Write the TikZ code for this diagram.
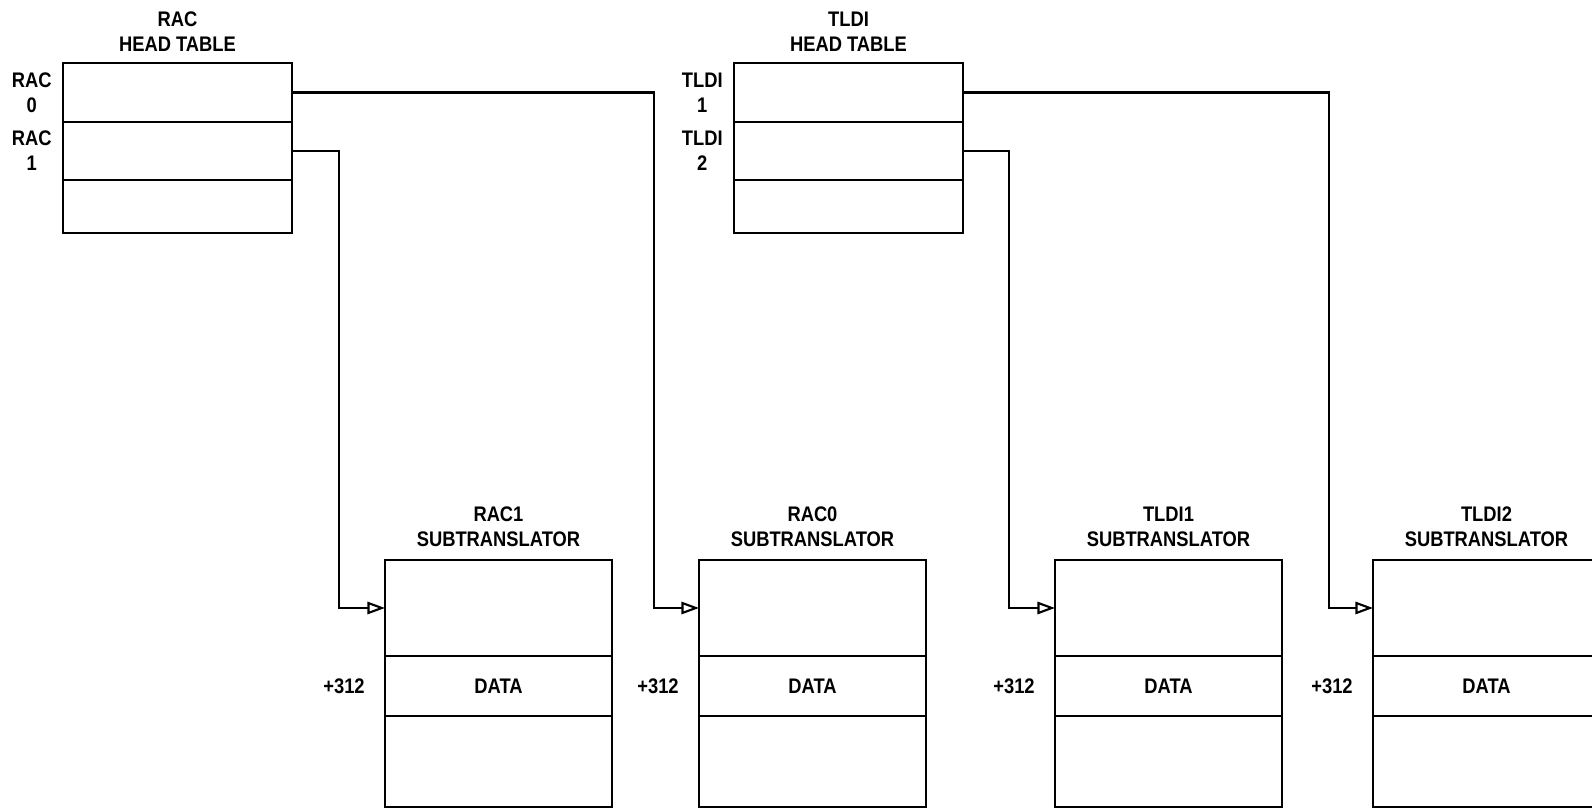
\documentclass[tikz,border=0pt]{standalone}
\usepackage{fontspec}
\setmainfont[FakeStretch=0.87]{Liberation Sans}
\usetikzlibrary{positioning, arrows.meta}

\begin{document}
\begin{tikzpicture}[
    % Define styles for the rows, labels and arrows
        x=0.02cm, y=-0.02cm,
        node distance=0.22cm,
        headrow/.style={draw, rectangle, line width=1.2pt, outer sep=0pt, inner sep=0pt, minimum width=4.58cm},
        subrow/.style={draw, rectangle, line width=1.2pt, outer sep=0pt, inner sep=0pt, minimum width=4.54cm, font=\bfseries\fontsize{12}{14.2}\selectfont},
        textnode/.style={align=center, inner sep=0pt, font=\bfseries\fontsize{12}{14.2}\selectfont},
        arrow/.style={-{Triangle[open, length=10pt, width=7pt]}, line width=1.2pt}
    ]
        \useasboundingbox (0,0) rectangle (1592,811);
        \clip (0,0) rectangle (1592,811);

        % RAC head table
        \node[headrow, minimum height=1.18cm, anchor=north west] (rac0) at (63,63) {};
        \node[headrow, minimum height=1.16cm, below=0pt of rac0] (rac1) {};
        \node[headrow, minimum height=1.06cm, below=0pt of rac1] (racend) {};
        \node[textnode, above=of rac0] (racname) {RAC\\HEAD TABLE};
        \node[textnode, left=of rac0] (rac0lbl) {RAC\\0};
        \node[textnode, left=of rac1] (rac1lbl) {RAC\\1};

        % TLDI head table
        \node[headrow, minimum height=1.18cm, anchor=north west] (tldi1) at (734,63) {};
        \node[headrow, minimum height=1.16cm, below=0pt of tldi1] (tldi2) {};
        \node[headrow, minimum height=1.06cm, below=0pt of tldi2] (tldiend) {};
        \node[textnode, above=of tldi1] (tldiname) {TLDI\\HEAD TABLE};
        \node[textnode, left=of tldi1] (tldi1lbl) {TLDI\\1};
        \node[textnode, left=of tldi2] (tldi2lbl) {TLDI\\2};

        % RAC1 subtranslator
        \node[subrow, minimum height=1.92cm, anchor=north west] (rsubAtop) at (385,560) {};
        \node[subrow, minimum height=1.2cm, below=0pt of rsubAtop] (rsubAdata) {DATA};
        \node[subrow, minimum height=1.82cm, below=0pt of rsubAdata] (rsubAend) {};
        \node[textnode, above=0.26cm of rsubAtop] (rsubAname) {RAC1\\SUBTRANSLATOR};
        \node[textnode, left=0.4cm of rsubAdata] (rsubAoff) {+312};

        % RAC0 subtranslator
        \node[subrow, minimum height=1.92cm, anchor=north west] (rsubBtop) at (699,560) {};
        \node[subrow, minimum height=1.2cm, below=0pt of rsubBtop] (rsubBdata) {DATA};
        \node[subrow, minimum height=1.82cm, below=0pt of rsubBdata] (rsubBend) {};
        \node[textnode, above=0.26cm of rsubBtop] (rsubBname) {RAC0\\SUBTRANSLATOR};
        \node[textnode, left=0.4cm of rsubBdata] (rsubBoff) {+312};

        % TLDI1 subtranslator
        \node[subrow, minimum height=1.92cm, anchor=north west] (tsubAtop) at (1055,560) {};
        \node[subrow, minimum height=1.2cm, below=0pt of tsubAtop] (tsubAdata) {DATA};
        \node[subrow, minimum height=1.82cm, below=0pt of tsubAdata] (tsubAend) {};
        \node[textnode, above=0.26cm of tsubAtop] (tsubAname) {TLDI1\\SUBTRANSLATOR};
        \node[textnode, left=0.4cm of tsubAdata] (tsubAoff) {+312};

        % TLDI2 subtranslator
        \node[subrow, minimum height=1.92cm, anchor=north west] (tsubBtop) at (1373,560) {};
        \node[subrow, minimum height=1.2cm, below=0pt of tsubBtop] (tsubBdata) {DATA};
        \node[subrow, minimum height=1.82cm, below=0pt of tsubBdata] (tsubBend) {};
        \node[textnode, above=0.26cm of tsubBtop] (tsubBname) {TLDI2\\SUBTRANSLATOR};
        \node[textnode, left=0.4cm of tsubBdata] (tsubBoff) {+312};

        % Draw the pointers from the head tables
        \draw[arrow] (rac0.east) -| ([xshift=-0.9cm]rsubBtop.west) -- (rsubBtop.west);

        \draw[arrow] (rac1.east) -| ([xshift=-0.92cm]rsubAtop.west) -- (rsubAtop.west);

        \draw[arrow] (tldi1.east) -| ([xshift=-0.88cm]tsubBtop.west) -- (tsubBtop.west);

        \draw[arrow] (tldi2.east) -| ([xshift=-0.92cm]tsubAtop.west) -- (tsubAtop.west);
    \end{tikzpicture}
\end{document}
